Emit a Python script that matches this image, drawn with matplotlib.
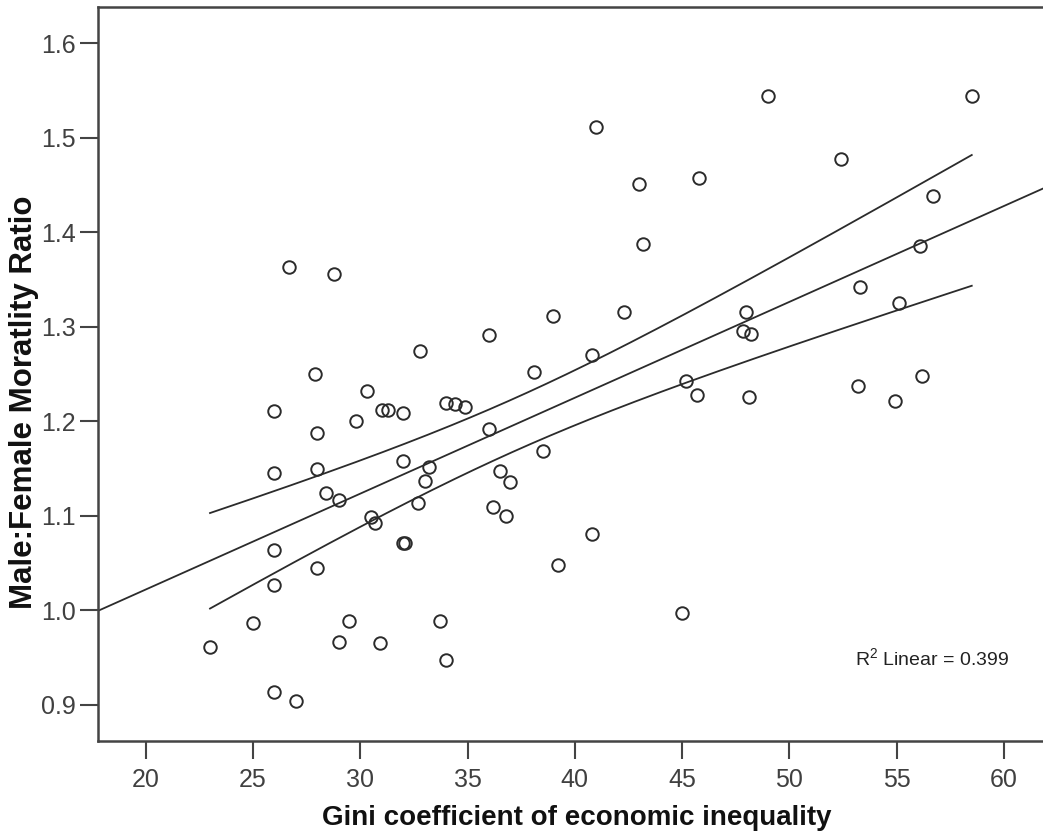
import numpy as np
import matplotlib
matplotlib.use("Agg")
import matplotlib.pyplot as plt

plt.rcParams['font.family'] = ['Liberation Sans', 'DejaVu Sans']
plt.rcParams['mathtext.fontset'] = 'custom'
plt.rcParams['mathtext.rm'] = 'Liberation Sans'
plt.rcParams['mathtext.it'] = 'Liberation Sans'

# Data
gini = [26.7, 28.8, 39.0, 36.0, 32.8, 27.9, 38.1, 41.0, 49.0, 58.5,
        43.0, 45.8, 52.4, 43.2, 56.7, 56.1, 53.3, 55.1, 42.3, 40.8,
        48.0, 47.85, 48.2, 45.2, 53.2, 56.2, 45.7, 48.1, 54.9, 40.8,
        39.2, 45.0, 30.3, 26.0, 31.0, 31.3, 32.0, 29.8, 34.0, 34.4,
        34.9, 28.0, 36.0, 26.0, 28.0, 32.0, 33.2, 33.0, 38.5, 36.5,
        37.0, 28.4, 29.0, 32.7, 36.2, 36.8, 30.5, 30.7, 32.0, 32.1,
        26.0, 28.0, 26.0, 25.0, 29.5, 33.7, 23.0, 29.0, 30.9, 34.0,
        26.0, 27.0]
ratio = [1.363, 1.356, 1.311, 1.291, 1.274, 1.250, 1.252, 1.511, 1.544, 1.544,
         1.451, 1.457, 1.477, 1.387, 1.438, 1.385, 1.342, 1.325, 1.316, 1.270,
         1.315, 1.295, 1.292, 1.242, 1.237, 1.248, 1.228, 1.226, 1.221, 1.081,
         1.048, 0.997, 1.232, 1.211, 1.212, 1.212, 1.209, 1.200, 1.219, 1.218,
         1.215, 1.187, 1.192, 1.145, 1.149, 1.158, 1.151, 1.137, 1.168, 1.147,
         1.136, 1.124, 1.116, 1.113, 1.109, 1.100, 1.098, 1.092, 1.071, 1.071,
         1.064, 1.045, 1.026, 0.986, 0.988, 0.988, 0.961, 0.966, 0.965, 0.947,
         0.913, 0.904]
x_ticks = [20, 25, 30, 35, 40, 45, 50, 55, 60]
y_ticks = [0.9, 1.0, 1.1, 1.2, 1.3, 1.4, 1.5, 1.6]
r2_label = "R$^2$ Linear = 0.399"
t_crit = 1.994  # t(0.975, df=70)

x = np.array(gini)
y = np.array(ratio)

W, H = 1043, 840
fig = plt.figure(figsize=(W / 100, H / 100), dpi=100)
ax = fig.add_axes([98 / W, (H - 740.7) / H, 1 - 98 / W, (740.7 - 7.3) / H])

dark = '#2b2b2b'
ax.set_xlim(17.78, 61.82)
ax.set_ylim(0.8617, 1.638)

# Fit line and 95% mean confidence band
n = len(x)
b, a = np.polyfit(x, y, 1)
resid = y - (a + b * x)
s = np.sqrt(np.sum(resid ** 2) / (n - 2))
xm = x.mean()
sxx = np.sum((x - xm) ** 2)

xf = np.linspace(17.78, 61.82, 200)
ax.plot(xf, a + b * xf, color=dark, lw=1.3, zorder=2)
xb = np.linspace(x.min(), x.max(), 200)
half = t_crit * s * np.sqrt(1 / n + (xb - xm) ** 2 / sxx)
ax.plot(xb, a + b * xb + half, color=dark, lw=1.3, zorder=2)
ax.plot(xb, a + b * xb - half, color=dark, lw=1.3, zorder=2)

ax.plot(x, y, 'o', ms=9.0, mfc='none', mec=dark, mew=1.4, zorder=3)

ax.set_xticks(x_ticks)
ax.set_yticks(y_ticks)
ax.set_xticklabels([str(v) for v in x_ticks])
ax.set_yticklabels([f"{v:.1f}" for v in y_ticks])
ax.tick_params(axis='both', direction='out', length=13, width=1.5, color='#444444',
               labelsize=18, labelcolor='#404040')
ax.tick_params(axis='x', pad=7)
ax.tick_params(axis='y', pad=3)

for side in ['left', 'bottom', 'top']:
    ax.spines[side].set_linewidth(1.8)
    ax.spines[side].set_color('#444444')
ax.spines['right'].set_visible(False)

fig.text(576.5 / W, 1 - 818 / H, "Gini coefficient of economic inequality",
         ha='center', va='center', fontsize=20, fontweight='bold', color='#111111')
fig.text(24 / W, 1 - 402 / H, "Male:Female Moratlity Ratio", rotation=90,
         ha='center', va='center', fontsize=22.5, fontweight='bold', color='#111111')
fig.text(855 / W, 1 - 658 / H, r2_label, ha='left', va='center', fontsize=14,
         color='#222222')

fig.savefig("out.png", dpi=100)
